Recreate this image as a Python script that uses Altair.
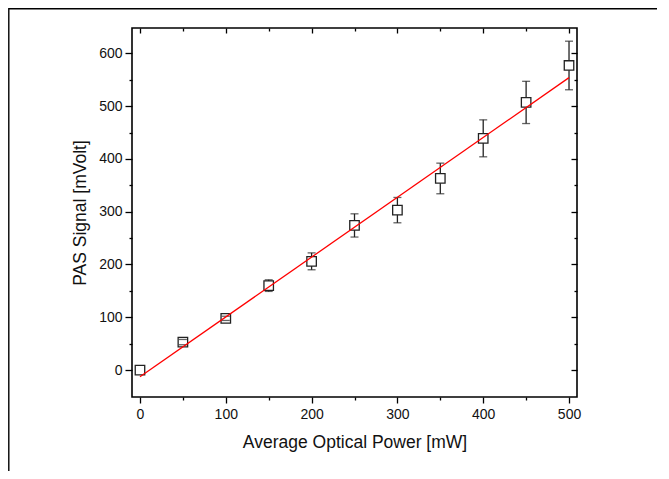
import altair as alt
import pandas as pd

# ---- data ----
power = [0, 50, 100, 150, 200, 250, 300, 350, 400, 450, 500]
signal = [0, 53, 98, 160, 206, 274, 303, 363, 439, 507, 577]
error = [0, 5, 4, 11, 16, 22, 24, 29, 35, 40, 46]

fit_power = [0, 500]
fit_signal = [-12.7, 554]

x_major = [0, 100, 200, 300, 400, 500]
x_minor = [50, 150, 250, 350, 450]
y_major = [0, 100, 200, 300, 400, 500, 600]
y_minor = [50, 150, 250, 350, 450, 550]

X_DOMAIN = [-9.3, 509.3]
Y_DOMAIN = [-51, 648]
W, H = 445, 369
FONT = "Liberation Sans"

df = pd.DataFrame({
    "power": power,
    "signal": signal,
    "err": error,
    "lo": [s - e for s, e in zip(signal, error)],
    "hi": [s + e for s, e in zip(signal, error)],
})
fit = pd.DataFrame({"power": fit_power, "signal": fit_signal})

xs = alt.Scale(domain=X_DOMAIN, nice=False, zero=False)
ys = alt.Scale(domain=Y_DOMAIN, nice=False, zero=False)

common = dict(domain=False, grid=False, tickColor="black", tickWidth=1.3,
              labelFont=FONT, titleFont=FONT, labelColor="#111", titleColor="#111")

# bottom axes
ax_bottom_major = alt.Axis(orient="bottom", values=x_major, tickSize=6, labelFontSize=14,
                           labelPadding=4, title="Average Optical Power [mW]",
                           titleFontSize=17.5, titleFontWeight="normal", titlePadding=12,
                           format="d", **common)
ax_bottom_minor = alt.Axis(orient="bottom", values=x_minor, tickSize=3, labels=False,
                           title=None, **common)
# top axes (inward ticks)
ax_top_major = alt.Axis(orient="bottom", offset=-H, values=x_major, tickSize=5, labels=False,
                        title=None, **common)
ax_top_minor = alt.Axis(orient="bottom", offset=-H, values=x_minor, tickSize=3, labels=False,
                        title=None, **common)
# left axes
ax_left_major = alt.Axis(orient="left", values=y_major, tickSize=7, labelFontSize=14,
                         labelPadding=3, title="PAS Signal [mVolt]", titleFontSize=17.5,
                         titleFontWeight="normal", titlePadding=9, format="d", **common)
ax_left_minor = alt.Axis(orient="left", values=y_minor, tickSize=3, labels=False,
                         title=None, **common)
# right axes (inward ticks)
ax_right_major = alt.Axis(orient="left", offset=-W, values=y_major, tickSize=6, labels=False,
                          title=None, **common)
ax_right_minor = alt.Axis(orient="left", offset=-W, values=y_minor, tickSize=3, labels=False,
                          title=None, **common)

frame = alt.Chart(pd.DataFrame({"k": [0]})).mark_rect(
    fill=None, stroke="black", strokeWidth=1.4
).encode(
    x=alt.value(-123.2), x2=alt.value(900), y=alt.value(-19.3), y2=alt.value(900)
)

bars = alt.Chart(df).mark_rule(color="#222", strokeWidth=1.3).encode(
    x=alt.X("power:Q", scale=xs, axis=ax_bottom_minor),
    y=alt.Y("lo:Q", scale=ys, axis=ax_left_minor),
    y2="hi:Q",
)

squares = alt.Chart(df).mark_point(
    shape="square", size=90, filled=True, fill="white", stroke="#222",
    strokeWidth=1.3, opacity=1
).encode(
    x=alt.X("power:Q", scale=xs, axis=ax_top_major),
    y=alt.Y("signal:Q", scale=ys, axis=ax_right_major),
)

caps_hi = alt.Chart(df).transform_filter("datum.err > 0").mark_tick(
    orient="horizontal", size=8, thickness=1.3, color="#222"
).encode(
    x=alt.X("power:Q", scale=xs, axis=ax_top_minor),
    y=alt.Y("hi:Q", scale=ys, axis=ax_right_minor),
)

caps_lo = alt.Chart(df).transform_filter("datum.err > 0").mark_tick(
    orient="horizontal", size=8, thickness=1.3, color="#222"
).encode(
    x=alt.X("power:Q", scale=xs, axis=None),
    y=alt.Y("lo:Q", scale=ys, axis=None),
)

line = alt.Chart(fit).mark_line(color="#ff0000", strokeWidth=1.3).encode(
    x=alt.X("power:Q", scale=xs, axis=ax_bottom_major),
    y=alt.Y("signal:Q", scale=ys, axis=ax_left_major),
)

chart = alt.layer(frame, bars, squares, caps_hi, caps_lo, line).resolve_axis(
    x="independent", y="independent"
).properties(
    width=W, height=H,
    autosize=alt.AutoSizeParams(type="none"),
    padding={"left": 124, "top": 20, "right": 80, "bottom": 74},
    background="white",
).configure_view(
    stroke="black", strokeWidth=1.6
)

chart.save("out.html", embed_options={"renderer": "svg", "actions": False})
